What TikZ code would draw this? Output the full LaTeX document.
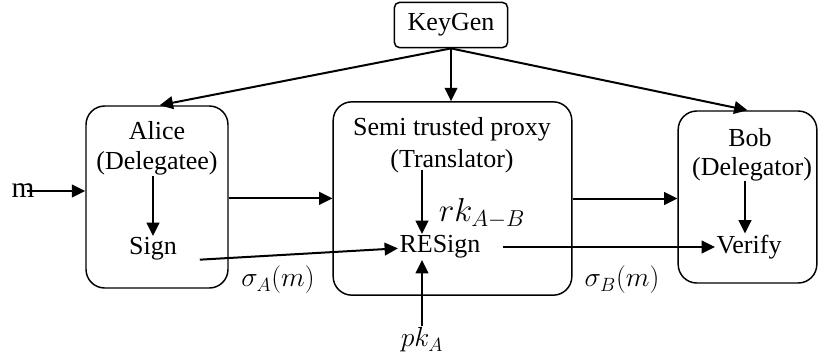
\documentclass[tikz,border=0pt]{standalone}
\usepackage{fontspec}
\setmainfont{Liberation Serif}
\usepackage{tikz}
\usetikzlibrary{arrows.meta, positioning, calc}

\begin{document}
\begin{tikzpicture}[x=0.75pt, y=-0.75pt,
      party/.style={draw, line width=1.1pt, rounded corners=14pt, inner sep=0pt},
      lbl/.style={font=\fontsize{19.5}{24}\selectfont, inner sep=1pt},
      mth/.style={font=\fontsize{19.5}{24}\selectfont, inner sep=1pt},
      arr/.style={line width=1.5pt, -{Triangle[length=10pt, width=9.5pt]}}
    ]
      \useasboundingbox (0,0) rectangle (818,354);

      % Parties
      \node[party, rounded corners=4pt, minimum width=85pt, minimum height=34pt, font=\fontsize{19.5}{24}\selectfont] (keygen) at (451,25) {KeyGen};
      \node[party, minimum width=106.5pt, minimum height=136.5pt] (alice) at (157,197) {};
      \node[party, minimum width=179pt, minimum height=145pt] (proxy) at (452.5,198.5) {};
      \node[party, minimum width=104pt, minimum height=129pt] (bob) at (747.5,197) {};

      % Alice
      \node[lbl] (aname) at (157,131) {Alice};
      \node[lbl] (arole) at (157,163) {(Delegatee)};
      \node[lbl] (sign) at (153,249) {Sign};

      % Proxy
      \node[lbl] (pname) at (452,129) {Semi trusted proxy};
      \node[lbl] (prole) at (452,161) {(Translator)};
      \node[lbl] (resign) at (440,247) {RESign};
      \node[font=\fontsize{26}{30}\selectfont, inner sep=1pt] (rk) at (482,213) {$rk_{A-B}$};
      \coordinate (rkin) at (422,170);

      % Bob
      \node[lbl] (bname) at (750,138) {Bob};
      \node[lbl] (brole) at (752,169) {(Delegator)};
      \node[lbl] (verify) at (749,247) {Verify};

      % Inputs and outputs
      \node[font=\fontsize{22}{26}\selectfont, inner sep=0pt] (msg) at (23,191) {m};
      \node[mth] (pk) at (422,340) {$pk_A$};
      \node[mth] (sigA) at (278,280) {$\sigma_A(m)$};
      \node[mth] (sigB) at (622,280) {$\sigma_B(m)$};

      % Key distribution
      \draw[arr] (keygen.south) -- ([xshift=2pt]alice.north);
      \draw[arr] (keygen.south) -- (proxy.north -| keygen.south);
      \draw[arr] (keygen.south) -- (bob.north);

      % Flow between parties
      \draw[arr] ([xshift=-6pt]msg.east) -- (msg.east -| alice.west);
      \draw[arr] ([yshift=-1pt]alice.east) -- ([yshift=-1pt]alice.east -| proxy.west);
      \draw[arr] (proxy.east) -- (proxy.east -| bob.west);

      % Inside the parties
      \draw[arr] (sign.north |- arole.south) -- (sign.north);
      \draw[arr] (rkin) -- (rkin |- resign.north);
      \draw[arr] (pk.north) -- (pk.north |- resign.south);
      \draw[arr] (verify.north -| 745,0) ++(0,-52) -- (verify.north -| 745,0);

      % Signatures
      \draw[arr] ([shift={(16pt,-8pt)}]sign.east) -- ([yshift=-1pt]resign.west);
      \draw[arr] ([xshift=16pt]resign.east) -- (verify.west);
    \end{tikzpicture}
\end{document}
